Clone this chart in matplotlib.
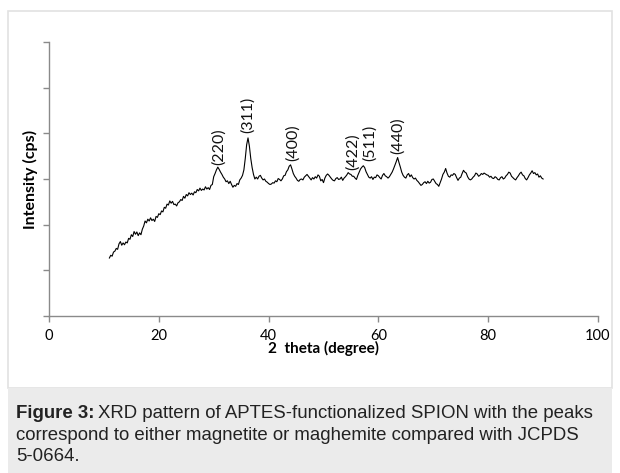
import matplotlib
matplotlib.use("Agg")
import matplotlib.pyplot as plt
import numpy as np
from matplotlib.patches import Rectangle

# scan range of the XRD pattern, one reading every 0.25 degree (2theta)
theta_start, theta_step = 11.0, 0.25
# intensity (arbitrary units)
intensity = [
    1.27, 1.33, 1.31, 1.40, 1.42, 1.48, 1.46, 1.58, 1.63, 1.55, 1.60, 1.56, 1.62, 1.60, 1.70, 1.68,  # 11-14.75
    1.78, 1.74, 1.85, 1.79, 1.84, 1.76, 1.82, 1.78, 1.90, 1.97, 2.08, 2.04, 2.12, 2.08, 2.15, 2.09,  # 15-18.75
    2.12, 2.07, 2.18, 2.16, 2.24, 2.22, 2.30, 2.28, 2.38, 2.36, 2.45, 2.43, 2.52, 2.47, 2.51, 2.44,  # 19-22.75
    2.45, 2.41, 2.48, 2.50, 2.55, 2.53, 2.62, 2.58, 2.66, 2.63, 2.70, 2.66, 2.69, 2.65, 2.72, 2.70,  # 23-26.75
    2.77, 2.74, 2.80, 2.75, 2.78, 2.76, 2.83, 2.78, 2.81, 2.77, 2.86, 2.88, 3.05, 3.12, 3.20, 3.26,  # 27-30.75
    3.21, 3.15, 3.10, 3.04, 3.00, 2.94, 2.96, 2.90, 2.95, 2.88, 2.82, 2.86, 2.84, 2.90, 2.88, 2.98,  # 31-34.75
    3.02, 3.08, 3.20, 3.45, 3.75, 3.90, 3.72, 3.45, 3.25, 3.10, 3.00, 3.04, 3.00, 3.06, 3.08, 3.02,  # 35-38.75
    2.98, 3.00, 2.95, 2.93, 2.90, 2.88, 2.89, 2.92, 2.91, 2.96, 2.94, 3.01, 2.99, 2.96, 3.00, 3.07,  # 39-42.75
    3.08, 3.16, 3.20, 3.28, 3.31, 3.22, 3.12, 3.06, 3.02, 2.97, 2.95, 2.99, 3.00, 2.98, 3.04, 3.07,  # 43-46.75
    3.10, 3.06, 3.02, 2.98, 3.03, 3.00, 3.05, 3.02, 3.09, 3.06, 2.96, 2.99, 2.92, 3.02, 3.08, 3.11,  # 47-50.75
    3.08, 3.04, 3.00, 2.97, 2.96, 3.01, 3.03, 2.99, 3.00, 3.04, 2.97, 3.02, 3.05, 3.09, 3.14, 3.11,  # 51-54.75
    3.10, 3.06, 3.06, 3.02, 2.99, 3.08, 3.15, 3.22, 3.26, 3.29, 3.25, 3.16, 3.10, 3.04, 3.02, 3.05,  # 55-58.75
    2.99, 3.04, 3.03, 3.09, 3.07, 3.03, 3.00, 3.08, 3.12, 3.07, 3.05, 3.02, 3.05, 3.10, 3.15, 3.22,  # 59-62.75
    3.30, 3.38, 3.47, 3.36, 3.26, 3.15, 3.08, 3.04, 3.02, 3.09, 3.12, 3.05, 3.09, 3.03, 3.00, 3.02,  # 63-66.75
    2.97, 2.94, 2.90, 2.86, 2.88, 2.92, 2.94, 2.90, 2.95, 2.91, 2.93, 2.99, 3.00, 2.95, 2.90, 2.88,  # 67-70.75
    2.84, 2.92, 3.00, 3.10, 3.15, 3.23, 3.13, 3.06, 3.04, 3.09, 3.08, 3.12, 3.10, 3.03, 2.97, 3.02,  # 71-74.75
    3.04, 3.12, 3.19, 3.15, 3.13, 3.05, 3.00, 2.98, 3.00, 3.04, 3.07, 3.13, 3.11, 3.06, 3.08, 3.12,  # 75-78.75
    3.10, 3.13, 3.11, 3.09, 3.08, 3.04, 3.06, 3.02, 3.01, 3.05, 3.03, 2.99, 2.98, 3.03, 3.05, 3.00,  # 79-82.75
    3.02, 3.07, 3.10, 3.15, 3.13, 3.06, 3.03, 3.00, 2.98, 3.03, 3.07, 3.12, 3.15, 3.09, 3.07, 3.01,  # 83-86.75
    2.98, 3.03, 3.09, 3.13, 3.18, 3.12, 3.14, 3.09, 3.11, 3.04, 3.07, 3.02, 3.00,                    # 87-90
]
two_theta = theta_start + theta_step * np.arange(len(intensity))

# peak labels (hkl) and where they sit
peak_labels = ["(220)", "(311)", "(400)", "(422)", "(511)", "(440)"]
peak_x = [31.0, 36.3, 44.4, 55.4, 58.5, 63.6]
peak_y = [3.31, 4.00, 3.40, 3.20, 3.40, 3.54]

x_ticks = [0, 20, 40, 60, 80, 100]

fig = plt.figure(figsize=(6.2, 4.73), dpi=100)
W, H = 620, 473

# white panel with light border, grey caption band (behind the axes)
fig.patches.append(Rectangle((8 / W, (H - 388) / H), 604 / W, 377 / H, transform=fig.transFigure,
                             facecolor="white", edgecolor="#e2e2e2", linewidth=1.2, zorder=-10))
fig.patches.append(Rectangle((8 / W, 0), 604 / W, (H - 388) / H, transform=fig.transFigure,
                             facecolor="#ebebeb", edgecolor="none", zorder=-10))

ax = fig.add_axes([49 / W, (H - 316) / H, 549 / W, 274 / H])
ax.plot(two_theta, intensity, color="black", linewidth=0.8)

lato = ["Lato", "DejaVu Sans"]
for lab, px, py in zip(peak_labels, peak_x, peak_y):
    ax.text(px, py, lab, rotation=90, ha="center", va="bottom", fontsize=11.5,
            family=lato, color="#111111")

ax.set_xlim(0, 100)
ax.set_ylim(0, 6)
ax.set_xticks(x_ticks)
ax.set_yticks(range(7))
for s in ["top", "right"]:
    ax.spines[s].set_visible(False)
for s in ["left", "bottom"]:
    ax.spines[s].set_color("#8a8a8a")
    ax.spines[s].set_linewidth(1.0)
ax.tick_params(axis="both", direction="out", color="#8a8a8a", length=4, width=1.0)
ax.tick_params(axis="y", labelleft=False)
ax.tick_params(axis="x", labelsize=10.5, pad=5)
for t in ax.get_xticklabels():
    t.set_family(lato)

ax.set_xlabel("2  theta (degree)", fontsize=11, fontweight="bold", family=lato, labelpad=-1)
ax.set_ylabel("Intensity (cps)", fontsize=11.5, fontweight="bold", family=lato, labelpad=4)
ax.patch.set_alpha(0)

# caption
cap_font = ["Liberation Sans", "DejaVu Sans"]
cap_size = 13.4
t1 = fig.text(16 / W, (H - 413) / H, "Figure 3:", fontsize=cap_size, fontweight="bold", family=cap_font,
              va="center", color="#222222")
fig.canvas.draw()
bb = t1.get_window_extent()
fig.text(bb.x1 / W + 4 / W, (H - 413) / H, "XRD pattern of APTES-functionalized SPION with the peaks",
         fontsize=cap_size, family=cap_font, va="center", color="#222222")
fig.text(16 / W, (H - 435) / H, "correspond to either magnetite or maghemite compared with JCPDS",
         fontsize=cap_size, family=cap_font, va="center", color="#222222")
fig.text(16 / W, (H - 456) / H, "5-0664.", fontsize=cap_size, family=cap_font, va="center", color="#222222")

fig.savefig("out.png", dpi=100)
